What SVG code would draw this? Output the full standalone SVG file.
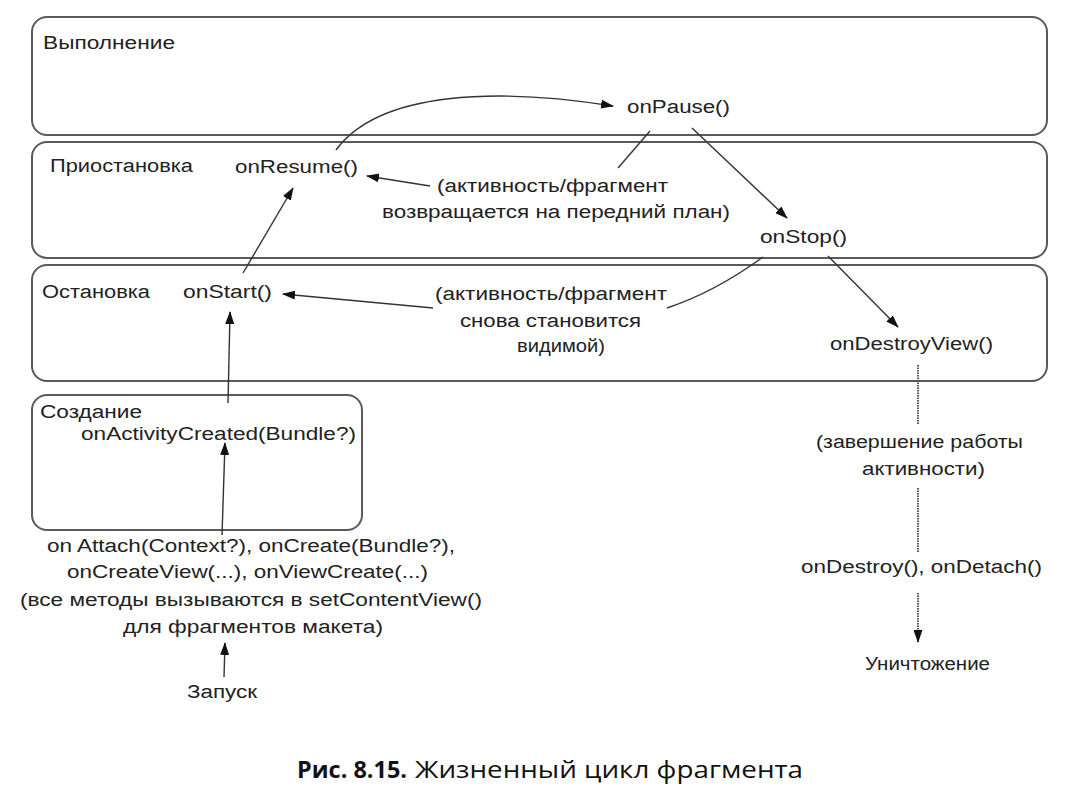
<svg xmlns="http://www.w3.org/2000/svg" width="1069" height="796" viewBox="0 0 1069 796">
<style>
.box{fill:none;stroke:#5a5a5a;stroke-width:2}
.t{font-family:"Liberation Sans",Arial,sans-serif;font-size:18px;fill:#222}
.c{fill:none;stroke:#333;stroke-width:1.4}
.d{fill:none;stroke:#555;stroke-width:2;stroke-dasharray:1.5 1}
.cap{font-family:"Open Sans","Noto Sans",sans-serif;font-size:24px;fill:#111}
</style>
<defs>
<marker id="ah" markerUnits="userSpaceOnUse" markerWidth="13" markerHeight="9" refX="12" refY="4.5" orient="auto">
<path d="M0,0 L13,4.5 L0,9 z" fill="#111"/>
</marker>
</defs>
<rect width="1069" height="796" fill="#fff"/>

<g id="state-run">
<rect class="box" x="32" y="17" width="1015" height="118" rx="15"/>
<text class="t" x="43" y="49" textLength="132" lengthAdjust="spacingAndGlyphs">Выполнение</text>
</g>
<g id="state-pause">
<rect class="box" x="32" y="142" width="1015" height="116" rx="15"/>
<text class="t" x="50" y="172" textLength="143" lengthAdjust="spacingAndGlyphs">Приостановка</text>
</g>
<g id="state-stop">
<rect class="box" x="32" y="265" width="1015" height="116" rx="15"/>
<text class="t" x="42" y="298" textLength="108" lengthAdjust="spacingAndGlyphs">Остановка</text>
</g>
<g id="state-create">
<rect class="box" x="32" y="395" width="330" height="135" rx="15"/>
<text class="t" x="40" y="418" textLength="102" lengthAdjust="spacingAndGlyphs">Создание</text>
</g>

<g id="onPause"><text class="t" x="627" y="113" textLength="103" lengthAdjust="spacingAndGlyphs">onPause()</text></g>
<g id="onResume"><text class="t" x="235" y="173" textLength="123" lengthAdjust="spacingAndGlyphs">onResume()</text></g>
<g id="note-foreground">
<text class="t" x="437" y="192" textLength="231" lengthAdjust="spacingAndGlyphs">(активность/фрагмент</text>
<text class="t" x="382" y="218" textLength="348" lengthAdjust="spacingAndGlyphs">возвращается на передний план)</text>
</g>
<g id="onStop"><text class="t" x="760" y="243" textLength="87" lengthAdjust="spacingAndGlyphs">onStop()</text></g>
<g id="onStart"><text class="t" x="183" y="298" textLength="89" lengthAdjust="spacingAndGlyphs">onStart()</text></g>
<g id="note-visible">
<text class="t" x="435" y="300" textLength="232" lengthAdjust="spacingAndGlyphs">(активность/фрагмент</text>
<text class="t" x="460" y="327" textLength="181" lengthAdjust="spacingAndGlyphs">снова становится</text>
<text class="t" x="517" y="352" textLength="88" lengthAdjust="spacingAndGlyphs">видимой)</text>
</g>
<g id="onDestroyView"><text class="t" x="830" y="350" textLength="163" lengthAdjust="spacingAndGlyphs">onDestroyView()</text></g>
<g id="onActivityCreated"><text class="t" x="81" y="440" textLength="275" lengthAdjust="spacingAndGlyphs">onActivityCreated(Bundle?)</text></g>
<g id="create-methods">
<text class="t" x="47" y="552" textLength="408" lengthAdjust="spacingAndGlyphs">on Attach(Context?), onCreate(Bundle?),</text>
<text class="t" x="67" y="578" textLength="361" lengthAdjust="spacingAndGlyphs">onCreateView(...), onViewCreate(...)</text>
<text class="t" x="20" y="606" textLength="462" lengthAdjust="spacingAndGlyphs">(все методы вызываются в setContentView()</text>
<text class="t" x="123" y="633" textLength="260" lengthAdjust="spacingAndGlyphs">для фрагментов макета)</text>
</g>
<g id="launch"><text class="t" x="187" y="698" textLength="70" lengthAdjust="spacingAndGlyphs">Запуск</text></g>
<g id="note-finish">
<text class="t" x="816" y="448" textLength="207" lengthAdjust="spacingAndGlyphs">(завершение работы</text>
<text class="t" x="862" y="475" textLength="123" lengthAdjust="spacingAndGlyphs">активности)</text>
</g>
<g id="onDestroy"><text class="t" x="801" y="573" textLength="241" lengthAdjust="spacingAndGlyphs">onDestroy(), onDetach()</text></g>
<g id="destroyed"><text class="t" x="865" y="670" textLength="125" lengthAdjust="spacingAndGlyphs">Уничтожение</text></g>

<g id="connectors">
<path class="c" d="M336,150 C380,90 500,88 613,106" marker-end="url(#ah)"/>
<path class="c" d="M692,128 L787,218" marker-end="url(#ah)"/>
<path class="c" d="M650,131 L618,168"/>
<path class="c" d="M430,186 L367,176" marker-end="url(#ah)"/>
<path class="c" d="M763,257 Q715,292 667,308"/>
<path class="c" d="M433,308 L283,294" marker-end="url(#ah)"/>
<path class="c" d="M243,273 L293,188" marker-end="url(#ah)"/>
<path class="c" d="M228,403 L230,312" marker-end="url(#ah)"/>
<path class="c" d="M222,535 L225,443" marker-end="url(#ah)"/>
<path class="c" d="M224,677 L225,643" marker-end="url(#ah)"/>
<path class="c" d="M828,256 L898,327" marker-end="url(#ah)"/>
<path class="d" d="M918,365 L918,425"/>
<path class="d" d="M918,488 L918,553"/>
<path class="d" d="M918,593 L918,642" marker-end="url(#ah)"/>
</g>

<g id="caption">
<text class="cap" x="297" y="778" font-weight="bold" textLength="110" lengthAdjust="spacingAndGlyphs">Рис. 8.15.</text>
<text class="cap" x="415" y="778" textLength="388" lengthAdjust="spacingAndGlyphs">Жизненный цикл фрагмента</text>
</g>
</svg>
